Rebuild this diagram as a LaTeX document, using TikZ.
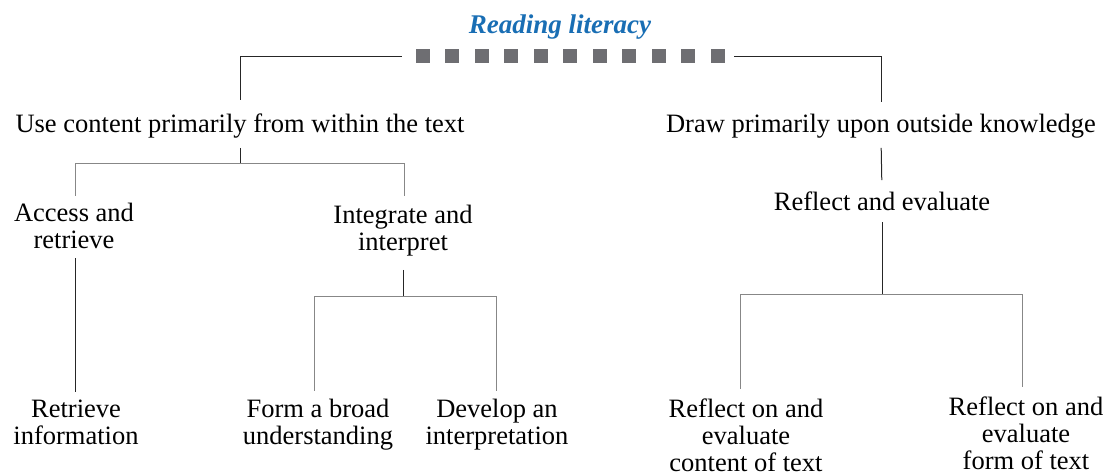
\documentclass[tikz,border=0pt]{standalone}
\usepackage{fontspec}
\setmainfont{Liberation Serif}
\definecolor{titleblue}{RGB}{25,110,180}
\definecolor{sqgray}{RGB}{110,110,114}
\definecolor{bargray}{RGB}{135,135,135}
\begin{document}
\begin{tikzpicture}[x=1pt,y=-1pt,
  lbl/.style={font=\fontsize{26.5}{27}\selectfont, align=center, inner sep=0pt, anchor=base},
  ttl/.style={font=\fontsize{27}{30}\selectfont\bfseries\itshape, text=titleblue, inner sep=0pt, anchor=base},
  blackline/.style={draw=black!85, line width=1pt},
  grayline/.style={draw=bargray, line width=1pt},
  sq/.style={fill=sqgray, draw=none, minimum size=14pt, inner sep=0pt}]
\useasboundingbox (0,0) rectangle (1106,472);
% title and square bar
\node[ttl] (title) at (560,33) {Reading literacy};
\node[inner sep=0pt, minimum width=332pt, minimum height=14pt] (bar) at (568,56) {};
\foreach \i in {0,...,10} \node[sq] (s\i) at (422.7+29.53*\i,56) {};
% labels (base anchor = baseline of the last line)
\node[lbl] (use) at (240,132) {Use content primarily from within the text};
\node[lbl] (draw) at (881,132) {Draw primarily upon outside knowledge};
\node[lbl] (acc) at (74,248) {Access and\\retrieve};
\node[lbl] (int) at (403,250) {Integrate and\\interpret};
\node[lbl] (refl) at (882,210) {Reflect and evaluate};
\node[lbl] (ret) at (76,444) {Retrieve\\information};
\node[lbl] (form) at (318,444) {Form a broad\\understanding};
\node[lbl] (dev) at (497,444) {Develop an\\interpretation};
\node[lbl] (rc) at (746,471) {Reflect on and\\evaluate\\content of text};
\node[lbl] (rf) at (1026,469) {Reflect on and\\evaluate\\form of text};
% junctions
\coordinate (lb) at (240,163);
\coordinate (ib) at (403,296);
\coordinate (rb) at (882,294);
% connectors
\draw[blackline, shorten >=13pt] (bar.west) -| (use.north);
\draw[blackline, shorten >=11pt] (bar.east) -| (draw.north);
\draw[blackline, shorten <=10pt] (use.south) -- (lb);
\draw[grayline, shorten >=6pt] (lb) -| ([xshift=1pt]acc.north);
\draw[grayline, shorten >=8pt] (lb) -| ([xshift=1pt]int.north);
\draw[blackline, shorten <=10pt, shorten >=7pt] ([xshift=1pt]acc.south) -- ([xshift=-1pt]ret.north);
\draw[blackline, shorten <=14pt] (int.south) -- (ib);
\draw[grayline, shorten >=7pt] (ib) -| ([xshift=-4pt]form.north);
\draw[grayline, shorten >=7pt] (ib) -| ([xshift=-1pt]dev.north);
\draw[blackline, shorten <=10pt, shorten >=11pt] (draw.south) -- (refl.north);
\draw[blackline, shorten <=12pt] (refl.south) -- (rb);
\draw[grayline, shorten >=9pt] (rb) -| ([xshift=-6pt]rc.north);
\draw[grayline, shorten >=9pt] (rb) -| ([xshift=-4pt]rf.north);
\end{tikzpicture}
\end{document}
